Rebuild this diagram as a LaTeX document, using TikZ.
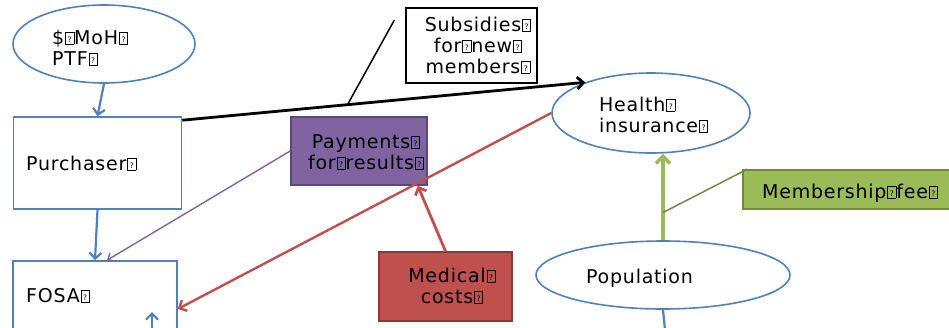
\documentclass[tikz,border=0pt]{standalone}
\usepackage{fontspec}
\setmainfont{DejaVu Sans}[LetterSpace=4]
\usetikzlibrary{arrows.meta,shapes.geometric}

\definecolor{offblue}{HTML}{4F81BD}
\definecolor{offred}{HTML}{C0504D}
\definecolor{offredd}{HTML}{8C3836}
\definecolor{offpurple}{HTML}{8064A2}
\definecolor{offpurpled}{HTML}{5C4776}
\definecolor{offgreen}{HTML}{9BBB59}
\definecolor{offgreend}{HTML}{71893F}

% placeholder glyph box
\newcommand\gb{\kern0.05em\raisebox{0em}{\setlength\fboxsep{0pt}\setlength\fboxrule{0.7pt}\fbox{\makebox[0.4em]{\rule{0pt}{0.62em}\raisebox{0.1em}{\fontsize{7.5}{7.5}\selectfont\addfontfeature{LetterSpace=0}?}}}}}

\tikzset{
  ell/.style={ellipse, draw=offblue, line width=1.6pt, fill=white, inner sep=0pt},
  bbox/.style={rectangle, draw=offblue, line width=1.6pt, fill=white, inner sep=0pt},
  txt/.style={inner sep=0pt, font=\fontsize{19}{21}\selectfont, text=black},
  barb/.style={-{Straight Barb[length=6pt,width=12pt]}},
  bluearr/.style={barb, draw=offblue, line width=2.2pt},
}

\begin{document}
\begin{tikzpicture}[x=1pt,y=-1pt]
\useasboundingbox (0,0) rectangle (949,327);
\clip (0,0) rectangle (949,327);

% shapes
\node[ell, minimum width=182pt, minimum height=78pt] (moh) at (104,44) {};
\node[bbox, minimum width=168pt, minimum height=92pt] (pur) at (97.5,163) {};
\node[bbox, minimum width=164pt, minimum height=90pt] (fosa) at (95,306) {};
\node[ell, minimum width=198pt, minimum height=80pt] (hi) at (651,113) {};
\node[ell, minimum width=254pt, minimum height=68pt] (pop) at (663,275) {};
\node[rectangle, draw=black, line width=1.5pt, fill=white, minimum width=131pt, minimum height=75pt] (sub) at (471.5,45.5) {};
\node[rectangle, draw=offpurpled, line width=1.6pt, fill=offpurple, minimum width=136pt, minimum height=68pt] (pay) at (359,151) {};
\node[rectangle, draw=offredd, line width=1.6pt, fill=offred, minimum width=133pt, minimum height=69pt] (med) at (445.5,286.5) {};
\node[rectangle, draw=offgreend, line width=1.6pt, fill=offgreen, minimum width=214pt, minimum height=39pt] (mem) at (850,189.5) {};

% free ends leaving the frame
\coordinate (fosaIn) at (152,340);
\coordinate (fosaTip) at (152,312);
\coordinate (popOut) at (666,340);

% connectors
\draw[bluearr] (moh.south) -- (pur.north);
\draw[bluearr] (pur.south) -- (fosa.north);
\draw[bluearr] (fosaIn) -- (fosaTip);
\draw[offblue, line width=2.2pt] (pop.south) -- (popOut);

\draw[barb, line width=2.8pt, black] ([yshift=-4pt]pur.north east) -- coordinate[pos=0.41] (subAt) (hi.155);
\coordinate (subFrom) at ([xshift=-11pt,yshift=-13pt]sub.north west);
\draw[black, line width=1.5pt] (subFrom) -- (subAt);

\draw[barb, offred, line width=2.4pt] (hi.west) -- ([yshift=-3pt]fosa.east);
\draw[-{Straight Barb[length=5pt,width=9pt]}, offpurple, line width=1.4pt] (pay.west) -- ([xshift=12pt]fosa.north);
\draw[barb, offred, line width=2.8pt] (med.north) -- ([xshift=-10pt]pay.south east);

\draw[-{Straight Barb[length=7pt,width=14pt]}, offgreen, line width=3.6pt] (pop.north) -- coordinate[pos=0.32] (memAt) (hi.south -| pop.north);
\draw[offgreend, line width=1.5pt] ([xshift=5pt]mem.north west) -- (memAt);

% labels (base anchor sits on the last line)
\node[txt, anchor=base west, align=left] (tmoh) at (52,65) {\$\gb MoH\gb\\PTF\gb};
\node[txt, anchor=base, align=center] (tsub) at (478,73) {Subsidies\gb\\for\gb new\gb\\members\gb};
\node[txt, anchor=base west, align=left] (thi) at (599,132) {Health\gb\\insurance\gb};
\node[txt, anchor=base west] (tpur) at (26,170) {Purchaser\gb};
\node[txt, anchor=base, align=center] (tpay) at (366,169) {Payments\gb\\for\gb results\gb};
\node[txt, anchor=base, align=center] (tmed) at (452,303) {Medical\gb\\costs\gb};
\node[txt, anchor=base west] (tmem) at (762,198) {Membership\gb fee\gb};
\node[txt, anchor=base west] (tpop) at (586,283) {Population};
\node[txt, anchor=base west] (tfosa) at (26,302) {FOSA\gb};
\end{tikzpicture}
\end{document}
